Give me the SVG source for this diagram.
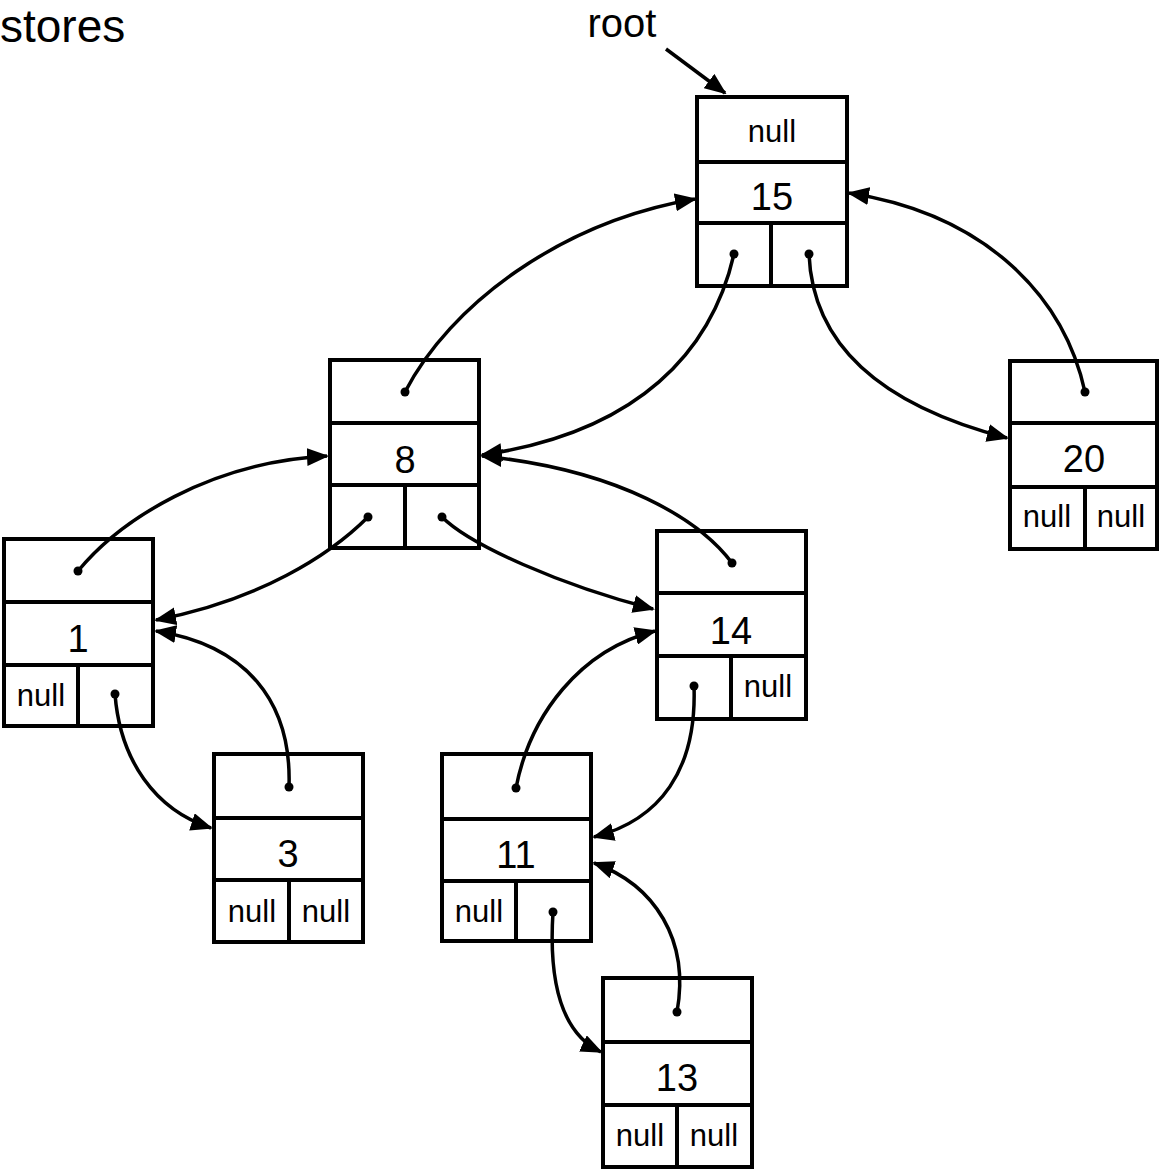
<svg xmlns="http://www.w3.org/2000/svg" width="1159" height="1169" viewBox="0 0 1159 1169">
  <defs>
    <marker id="arrow" markerUnits="userSpaceOnUse" markerWidth="22" markerHeight="18" viewBox="0 0 22 18" refX="20" refY="9" orient="auto">
      <path d="M0,0 L22,9 L0,18 z" fill="#000"/>
    </marker>
    <style>
      .box { fill: #fff; stroke: #000; stroke-width: 4; }
      .grid { fill: none; stroke: #000; stroke-width: 4; }
      .dot { fill: #000; }
      .val { font-family: "Liberation Sans", Arial, Helvetica, sans-serif; font-size: 38px; text-anchor: middle; fill: #000; }
      .nul { font-family: "Liberation Sans", Arial, Helvetica, sans-serif; font-size: 31px; text-anchor: middle; fill: #000; }
      .lbl { font-family: "Liberation Sans", Arial, Helvetica, sans-serif; fill: #000; }
      .link { fill: none; stroke: #000; stroke-width: 3.5; marker-end: url(#arrow); }
    </style>
  </defs>

  <rect width="1159" height="1169" fill="#fff"/>

  <!-- labels -->
  <text class="lbl" x="0" y="42" font-size="46">stores</text>
  <text class="lbl" x="622" y="37" font-size="40" text-anchor="middle">root</text>

  <!-- tree nodes: parent cell / value cell / left + right child cells -->
  <g id="node-15">
    <rect class="box" x="697" y="97" width="150" height="189"/>
    <path class="grid" d="M697,162 H847 M697,223 H847 M771,223 V286"/>
    <text class="nul" x="772" y="142">null</text>
    <text class="val" x="772" y="210">15</text>
    <circle class="dot" cx="734" cy="254" r="4.5"/>
    <circle class="dot" cx="809" cy="254" r="4.5"/>
  </g>

  <g id="node-8">
    <rect class="box" x="330" y="360" width="149" height="188"/>
    <path class="grid" d="M330,423 H479 M330,485 H479 M405,485 V548"/>
    <text class="val" x="405" y="473">8</text>
    <circle class="dot" cx="405" cy="392" r="4.5"/>
    <circle class="dot" cx="368" cy="517" r="4.5"/>
    <circle class="dot" cx="442" cy="517" r="4.5"/>
  </g>

  <g id="node-20">
    <rect class="box" x="1010" y="361" width="147" height="188"/>
    <path class="grid" d="M1010,423 H1157 M1010,487 H1157 M1085,487 V549"/>
    <text class="val" x="1084" y="472">20</text>
    <text class="nul" x="1047" y="527">null</text>
    <text class="nul" x="1121" y="527">null</text>
    <circle class="dot" cx="1085" cy="392" r="4.5"/>
  </g>

  <g id="node-1">
    <rect class="box" x="4" y="539" width="149" height="187"/>
    <path class="grid" d="M4,602 H153 M4,665 H153 M78,665 V726"/>
    <text class="val" x="78" y="652">1</text>
    <text class="nul" x="41" y="706">null</text>
    <circle class="dot" cx="78" cy="571" r="4.5"/>
    <circle class="dot" cx="115" cy="694" r="4.5"/>
  </g>

  <g id="node-14">
    <rect class="box" x="657" y="531" width="149" height="188"/>
    <path class="grid" d="M657,593 H806 M657,656 H806 M731,656 V719"/>
    <text class="val" x="731" y="644">14</text>
    <text class="nul" x="768" y="697">null</text>
    <circle class="dot" cx="732" cy="563" r="4.5"/>
    <circle class="dot" cx="694" cy="686" r="4.5"/>
  </g>

  <g id="node-3">
    <rect class="box" x="214" y="754" width="149" height="188"/>
    <path class="grid" d="M214,818 H363 M214,880 H363 M289,880 V942"/>
    <text class="val" x="288" y="867">3</text>
    <text class="nul" x="252" y="922">null</text>
    <text class="nul" x="326" y="922">null</text>
    <circle class="dot" cx="289" cy="787" r="4.5"/>
  </g>

  <g id="node-11">
    <rect class="box" x="442" y="754" width="149" height="187"/>
    <path class="grid" d="M442,819 H591 M442,881 H591 M516,881 V941"/>
    <text class="val" x="516" y="868">11</text>
    <text class="nul" x="479" y="922">null</text>
    <circle class="dot" cx="516" cy="788" r="4.5"/>
    <circle class="dot" cx="553" cy="912" r="4.5"/>
  </g>

  <g id="node-13">
    <rect class="box" x="603" y="978" width="149" height="189"/>
    <path class="grid" d="M603,1042 H752 M603,1105 H752 M677,1105 V1167"/>
    <text class="val" x="677" y="1091">13</text>
    <text class="nul" x="640" y="1146">null</text>
    <text class="nul" x="714" y="1146">null</text>
    <circle class="dot" cx="677" cy="1012" r="4.5"/>
  </g>

  <!-- child and parent links -->
  <g id="connectors">
    <path class="link" d="M666,49 L725,93"/>
    <path class="link" d="M405,392 C450,305 560,222 695,199"/>
    <path class="link" d="M734,254 C712,350 640,432 482,455"/>
    <path class="link" d="M809,254 C812,330 860,400 1007,438"/>
    <path class="link" d="M1085,392 C1065,300 990,215 849,193"/>
    <path class="link" d="M78,571 C120,520 210,462 327,456"/>
    <path class="link" d="M368,517 C330,555 260,600 156,620"/>
    <path class="link" d="M442,517 C470,545 560,585 653,609"/>
    <path class="link" d="M732,563 C700,520 620,470 482,456"/>
    <path class="link" d="M115,694 C120,760 155,810 211,828"/>
    <path class="link" d="M289,787 C292,700 245,645 156,631"/>
    <path class="link" d="M694,686 C697,770 660,820 594,837"/>
    <path class="link" d="M516,788 C530,715 580,650 655,631"/>
    <path class="link" d="M553,912 C548,990 565,1035 601,1052"/>
    <path class="link" d="M677,1012 C690,940 655,885 594,863"/>
  </g>
</svg>
